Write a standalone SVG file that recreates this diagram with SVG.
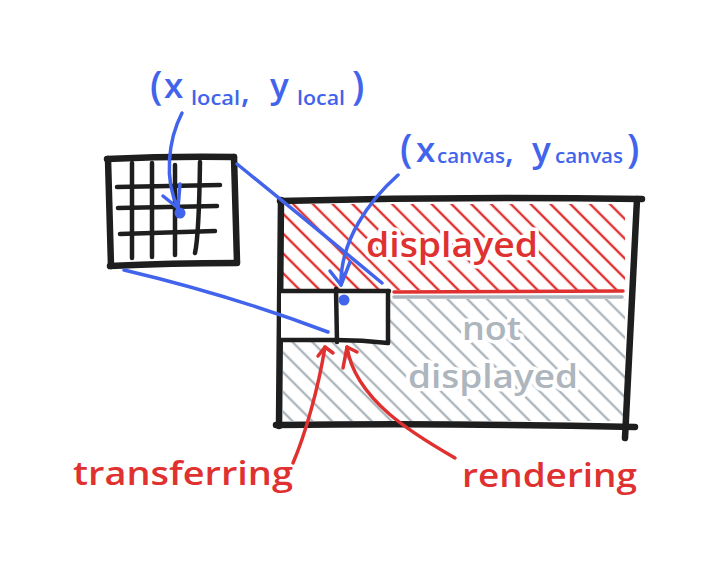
<svg xmlns="http://www.w3.org/2000/svg" width="714" height="564" viewBox="0 0 714 564">
<defs>
<style>
.blk{fill:none;stroke:#1e1e1e;stroke-linecap:round;stroke-linejoin:round}
.thick{stroke-width:6.5}
.mid{stroke-width:4.5}
.blue{fill:none;stroke:#4263eb;stroke-width:3.5;stroke-linecap:round;stroke-linejoin:round}
.red{fill:none;stroke:#e03131;stroke-width:3.5;stroke-linecap:round;stroke-linejoin:round}
.t{font-family:"Open Sans","Noto Sans",sans-serif;font-weight:600}
.halo{paint-order:stroke;stroke:#ffffff;stroke-width:7;stroke-linejoin:round}
.bt{fill:#4263eb}
</style>
<pattern id="hRed" patternUnits="userSpaceOnUse" width="14" height="14" patternTransform="rotate(-45)">
<line x1="7" y1="-1" x2="7" y2="15" stroke="#e03131" stroke-width="2.4"/>
</pattern>
<pattern id="hGray" patternUnits="userSpaceOnUse" width="14" height="14" patternTransform="rotate(-45)">
<line x1="7" y1="-1" x2="7" y2="15" stroke="#adb5bd" stroke-width="2.4"/>
</pattern>
</defs>
<rect width="714" height="564" fill="#ffffff"/>

<g id="canvas">
<rect x="283" y="204" width="342" height="86" fill="url(#hRed)"/>
<rect x="283" y="299" width="342" height="122" fill="url(#hGray)"/>
<line x1="394" y1="292" x2="623" y2="291" stroke="#e03131" stroke-width="3.5" stroke-linecap="round"/>
<line x1="394" y1="297" x2="622" y2="297" stroke="#adb5bd" stroke-width="3.5" stroke-linecap="round"/>
<text class="t halo" x="366" y="257" font-size="34" fill="#e03131" textLength="172" lengthAdjust="spacingAndGlyphs">displayed</text>
<text class="t halo" x="462" y="340" font-size="32" fill="#adb5bd" textLength="59" lengthAdjust="spacingAndGlyphs">not</text>
<text class="t halo" x="408" y="388" font-size="32" fill="#adb5bd" textLength="170" lengthAdjust="spacingAndGlyphs">displayed</text>
<path class="blk thick" d="M280,201 Q460,196 642,199"/>
<path class="blk thick" d="M637,199 Q631,320 625,438"/>
<path class="blk thick" d="M276,425 Q455,423 635,427"/>
<path class="blk thick" d="M281,200 L279,426"/>
</g>

<g id="tile">
<rect x="281" y="291" width="107" height="50" fill="#ffffff"/>
<path class="blk mid" d="M281,291 L389,291"/>
<path class="blk mid" d="M281,340 L336,340 Q362,340 388,343"/>
<path class="blk mid" d="M336,289 L337,342"/>
<path class="blk mid" d="M388,291 L388,343"/>
</g>

<g id="local-grid">
<path class="blk thick" d="M107,159 Q170,156 234,157"/>
<path class="blk thick" d="M234,157 L237,262"/>
<path class="blk thick" d="M110,266 Q170,263 237,263"/>
<path class="blk thick" d="M108,159 L111,266"/>
<path class="blk mid" d="M132,163 L132,258 M152,163 L152,257 M175,165 L175,255 M200,162 Q199,235 195,253"/>
<path class="blk mid" d="M117,187 L220,185 M118,208 L217,206 M120,234 L215,231"/>
</g>

<g id="label-local">
<text class="t bt" y="100" font-size="39"><tspan x="150">(</tspan></text>
<text class="t bt" y="98" font-size="35"><tspan x="164">x</tspan></text>
<text class="t bt" x="191" y="105" font-size="19" textLength="49" lengthAdjust="spacingAndGlyphs">local</text>
<text class="t bt" y="103" font-size="32"><tspan x="241">,</tspan></text>
<text class="t bt" y="98" font-size="35"><tspan x="270">y</tspan></text>
<text class="t bt" x="297" y="105" font-size="19" textLength="48" lengthAdjust="spacingAndGlyphs">local</text>
<text class="t bt" y="100" font-size="39"><tspan x="352">)</tspan></text>
</g>

<g id="label-canvas">
<text class="t bt" y="163" font-size="39"><tspan x="400">(</tspan></text>
<text class="t bt" y="162" font-size="35"><tspan x="416">x</tspan></text>
<text class="t bt" x="437" y="163" font-size="20" textLength="68" lengthAdjust="spacingAndGlyphs">canvas</text>
<text class="t bt" y="163" font-size="32"><tspan x="505">,</tspan></text>
<text class="t bt" y="162" font-size="35"><tspan x="532">y</tspan></text>
<text class="t bt" x="555" y="163" font-size="20" textLength="68" lengthAdjust="spacingAndGlyphs">canvas</text>
<text class="t bt" y="163" font-size="39"><tspan x="627">)</tspan></text>
</g>

<g id="label-transferring">
<text class="t" x="73" y="485" font-size="32" fill="#e03131" textLength="220" lengthAdjust="spacingAndGlyphs">transferring</text>
</g>
<g id="label-rendering">
<text class="t" x="462" y="487" font-size="32" fill="#e03131" textLength="175" lengthAdjust="spacingAndGlyphs">rendering</text>
</g>

<g id="connectors">
<path class="blue" d="M237,164 Q300,215 382,283"/>
<path class="blue" d="M124,270 Q230,295 328,332"/>
<path class="blue" d="M182,113 C168,140 164,180 178,208"/>
<path class="blue" d="M163,196 L178,208 L180,184"/>
<path class="blue" d="M398,175 C370,200 340,240 341,285"/>
<path class="blue" d="M330,271 L341,285 L350,262"/>
<circle cx="180" cy="213" r="5.5" fill="#4263eb"/>
<circle cx="344" cy="300" r="5.5" fill="#4263eb"/>
<path class="red" d="M293,463 C305,435 318,390 325,347"/>
<path class="red" d="M318,356 L325,347 L333,353"/>
<path class="red" d="M455,458 C415,435 355,400 347,347"/>
<path class="red" d="M343,368 L347,347 L357,352"/>
</g>
</svg>
